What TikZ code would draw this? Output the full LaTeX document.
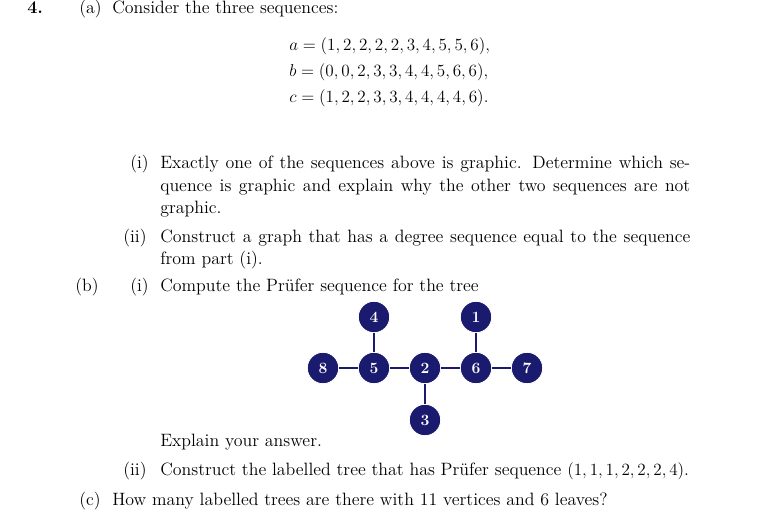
\documentclass[tikz,border=0pt]{standalone}
\usepackage{amsmath}
\definecolor{nb}{RGB}{26,26,110}
\begin{document}
\begin{tikzpicture}[x=0.7pt,y=-0.7pt,
  t/.style={anchor=base west,inner sep=0pt,font=\fontsize{12.5}{15}\selectfont},
  v/.style={circle,fill=nb,draw=white,line width=0.6pt,minimum size=22pt,inner sep=0pt,text=white,font=\fontsize{11}{13}\selectfont\bfseries},
  e/.style={draw=nb,line width=1pt}]
\useasboundingbox (0,0) rectangle (767,530);
\node[t] (n4) at (27,14) {\textbf{4.}};
\node[t] (pa) at (79,14) {(a)};
\node[t] (ta) at (112,14) {Consider the three sequences:};
\node[t] (sa) at (289,51) {$a = (1,2,2,2,2,3,4,5,5,6),$};
\node[t] (sb) at (289,77) {$b = (0,0,2,3,3,4,4,5,6,6),$};
\node[t] (sc) at (289,103) {$c = (1,2,2,3,3,4,4,4,4,6).$};
\node[t] (i1) at (130,169) {(i)};
\node[t] (l1) at (160,169) {\makebox[371pt][s]{Exactly one of the sequences above is graphic. Determine which se-}};
\node[t] (l2) at (160,191) {\makebox[371pt][s]{quence is graphic and explain why the other two sequences are not}};
\node[t] (l3) at (160,213) {graphic.};
\node[t] (i2) at (123,242) {(ii)};
\node[t] (l4) at (160,242) {\makebox[371pt][s]{Construct a graph that has a degree sequence equal to the sequence}};
\node[t] (l5) at (160,264) {from part (i).};
\node[t] (pb) at (75,291) {(b)};
\node[t] (bi) at (130,291) {(i)};
\node[t] (bt) at (160,291) {Compute the Pr\"ufer sequence for the tree};
\node[v] (v8) at (323,368) {8};
\node[v] (v5) at (374,368) {5};
\node[v] (v2) at (425,368) {2};
\node[v] (v6) at (476,368) {6};
\node[v] (v7) at (527,368) {7};
\node[v] (v4) at (374,317) {4};
\node[v] (v1) at (476,317) {1};
\node[v] (v3) at (425,420) {3};
\foreach \a/\b in {v8/v5,v5/v2,v2/v6,v6/v7,v4/v5,v1/v6,v2/v3} \path[e] (\a) -- (\b);
\node[t] (ex) at (160,446) {Explain your answer.};
\node[t] (bii) at (123,475) {(ii)};
\node[t] (bt2) at (160,475) {Construct the labelled tree that has Pr\"ufer sequence $(1,1,1,2,2,2,4)$.};
\node[t] (pc) at (79,505) {(c)};
\node[t] (tc) at (112,505) {How many labelled trees are there with 11 vertices and 6 leaves?};
\end{tikzpicture}
\end{document}
